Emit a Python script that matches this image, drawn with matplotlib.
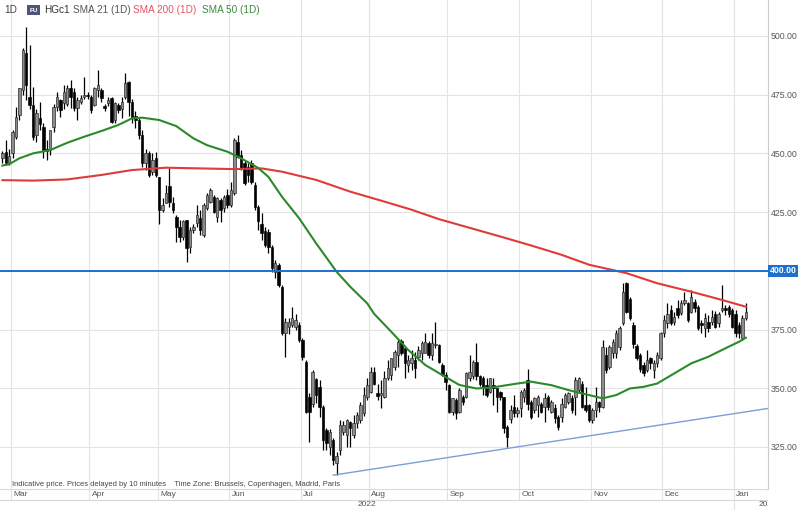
import numpy as np
import pandas as pd
import matplotlib
matplotlib.use("Agg")
import matplotlib.pyplot as plt

plt.rcParams['font.family'] = ['Liberation Sans', 'DejaVu Sans']

# trading days shown (HGc1, daily candles)
holidays = ["2022-04-15", "2022-05-30", "2022-06-20", "2022-07-04",
            "2022-09-05", "2022-11-24", "2022-12-26", "2023-01-02"]
dates = pd.bdate_range("2022-02-24", "2023-01-06").drop(pd.to_datetime(holidays))

opens = [448, 450.7, 446, 450, 457, 466.3, 477, 492.6, 474, 470.6,
         458, 465, 461.4, 452, 451.4, 461.4, 469.9, 472.7, 471.3, 471,
         477.7, 476.3, 469.2, 472, 474, 475, 474.1, 470.6, 477, 477,
         470, 471.3, 473.4, 464.2, 470.6, 469, 474, 480.5, 472, 466,
         464, 458, 446, 450, 442, 448, 440, 426, 429, 436,
         429, 423, 418.8, 414.5, 421.6, 410.3, 417.3, 420.2, 422.3, 415.2,
         426.6, 429.4, 431.5, 423, 430, 426.6, 432.2, 428, 433, 455,
         449.3, 445.7, 444, 446, 436.5, 427, 420, 417, 416.7, 410.3,
         399.4, 402.5, 393.2, 373.4, 376, 377, 376, 377, 370.5, 361.3,
         346.4, 343.5, 354, 350.6, 342, 332.2, 325.1, 328, 318, 323.7,
         331.5, 330, 335.7, 330, 335, 336.4, 339.3, 346.4, 348.5, 357,
         348, 347, 346.4, 354.2, 355.6, 359.2, 364.1, 370, 367, 360,
         360.6, 362, 363.4, 364.8, 364.8, 369.1, 364.1, 368.4, 368.4, 359.9,
         355.6, 351.4, 340, 344.9, 340, 346.4, 346.4, 354.2, 355, 361.3,
         355, 354.2, 351.4, 348.5, 351.4, 349.9, 348.5, 346.4, 333.6, 337.1,
         342.1, 339.3, 341.4, 346.4, 353.5, 344.2, 340.7, 342.8, 343.5, 342.1,
         346.4, 340, 341.4, 337.9, 337.9, 342.1, 344.2, 345.7, 346.4, 349.2,
         352, 342.8, 342.8, 336.4, 340.7, 344.2, 342.1, 364.1, 359.2, 364.8,
         364.8, 367.7, 377.6, 394.7, 388, 377, 368, 364, 360, 357.7,
         362.7, 357.7, 360.6, 362.7, 373.4, 377.6, 383.3, 378.3, 384, 382,
         386.1, 386.1, 382.6, 386.8, 384.7, 377.6, 375.5, 378.3, 378.3, 381.8,
         377.6, 383.3, 384, 384.7, 383.3, 381.8, 377, 371.2, 379.7]
highs = [451, 455.7, 452, 460, 469.9, 478, 495, 504, 496, 478.4,
         469, 472, 463, 455.7, 460, 471, 476, 473, 479, 479,
         481.2, 478, 474, 475, 482.7, 476, 475, 478.4, 485.5, 478,
         471, 474, 474, 472, 471.5, 474, 484.1, 481, 473, 468,
         465, 460, 452, 451, 450, 450.6, 440, 431, 436.5, 443.6,
         431.5, 423.7, 421.6, 421.6, 421.6, 418.7, 420, 428, 425.9, 428.7,
         433, 435.1, 432.2, 431.5, 431, 432.2, 435, 438, 456.4, 457.8,
         451.4, 447.2, 446, 447, 438, 428, 424.5, 418.5, 418, 411,
         404.6, 403.2, 394, 380, 380, 384.7, 381.8, 378.3, 371.2, 362,
         348, 357.8, 354.5, 353.5, 343, 332.9, 332.5, 329, 323, 336.4,
         336, 337, 336, 338.6, 340, 344, 350.7, 354.2, 359.2, 359.2,
         352, 353.5, 357.4, 362, 362.7, 366.3, 370.5, 371, 367, 364.1,
         366.3, 365.5, 368, 370, 373.4, 370, 373.4, 378.3, 369, 360.6,
         357, 352, 345.7, 346, 350, 347, 357, 364, 362, 369.1,
         355.6, 355, 354.2, 354.2, 354.2, 350, 349, 346.4, 334.3, 342.8,
         347.1, 342.1, 349.2, 350, 358.4, 345, 346.4, 347.1, 344.2, 347.8,
         347.1, 345, 343.5, 338.5, 345.7, 348, 348.5, 347, 354.9, 354.9,
         353, 350.7, 343.5, 341.4, 350.7, 344.5, 370.5, 367.7, 368.4, 371,
         374.8, 376.3, 394.7, 395.4, 389, 378, 369, 365, 361, 366.3,
         363.4, 362, 365.5, 374.1, 381.1, 386.1, 385.4, 382.6, 387.5, 387.5,
         391.1, 386.8, 391.8, 388.2, 385.4, 379, 382, 381, 383.3, 383,
         382.6, 394, 385.4, 385.4, 384, 383.3, 378, 381.1, 386.1]
lows = [446, 445, 445, 448, 456, 464, 475, 472.7, 469, 455.7,
        455, 460, 448, 447, 449.3, 459, 468, 465.6, 469, 470,
        469.2, 468, 464.2, 471, 473, 473, 467, 470, 474, 472,
        468, 470, 463, 463, 467, 465, 473, 466, 463, 461,
        456, 444, 443, 440, 441, 440, 420, 425, 428.7, 427.3,
        424.5, 412.4, 412.4, 413, 403.9, 407.4, 416, 418.8, 415.2, 414.5,
        425.9, 428.7, 424.5, 420.9, 420.9, 425.2, 426.6, 427, 432.2, 447.9,
        443, 436.5, 438, 437, 426, 417.4, 413.1, 410, 407.4, 399.6,
        396.8, 393.3, 372.7, 363.4, 373, 376, 374.8, 369.8, 361.9, 339.3,
        327, 342.1, 343.6, 337.9, 323.7, 323.7, 321.6, 317.3, 313, 321.6,
        330, 325.1, 325.1, 329, 333, 335, 338, 344.9, 347.8, 351.4,
        345, 341.4, 346, 353.5, 353.5, 357.8, 359.2, 364, 354.2, 357,
        357.8, 354.2, 362, 362, 364.8, 363, 362, 367, 360.6, 355,
        349.2, 339.3, 338.6, 337, 339.3, 343, 346, 353, 354, 353.5,
        351, 347, 346.4, 348, 342.8, 340, 345, 331, 325, 335,
        337.9, 337.9, 337.9, 344, 340.7, 337, 339.3, 337.9, 339.3, 335.7,
        340.7, 339.3, 335, 332.2, 335.7, 341.4, 343.5, 339.3, 338.6, 347.8,
        341.4, 340, 335.5, 335, 337.9, 340, 341.4, 356.3, 358.4, 363,
        362.7, 366.3, 377, 382, 379, 367, 362, 357, 355, 357,
        358, 354.2, 359, 362, 371.9, 375.5, 376.9, 377, 380, 381,
        385.4, 378.3, 382, 382.6, 374.8, 373.4, 372, 374, 377, 375.5,
        376.2, 382.6, 381, 380.4, 375.5, 371.9, 371.2, 370.5, 379]
closes = [450, 445.7, 449, 459.2, 465.6, 477.7, 494, 479, 470.6, 457.1,
          467, 462.5, 451.4, 451, 460, 469.9, 474.1, 468.5, 476.3, 477.7,
          474.1, 469.2, 472.7, 473.4, 475, 474.5, 468.5, 477.7, 479, 473.4,
          469.5, 472.7, 463.5, 471.3, 468.5, 472, 479.8, 472, 465, 464,
          458, 446, 450, 441, 447, 441, 426, 428, 433, 429.5,
          426, 418.8, 414.5, 421, 409.5, 417.3, 418.7, 423.7, 417.3, 428,
          432.2, 434.4, 425.2, 430.8, 425.9, 431.5, 428, 434.4, 455.7, 448.6,
          443.6, 437.3, 441, 438, 427.3, 421, 416, 411, 410.3, 401,
          403.2, 394, 373.4, 378.3, 378, 379.7, 379, 370.5, 363.4, 340,
          340, 357, 347, 342, 327.9, 326.5, 331.5, 319.4, 321, 334.3,
          334.3, 336.4, 332.9, 335, 338.6, 342.8, 347.1, 351.4, 357, 352,
          346.5, 348, 354.2, 358.5, 362.7, 365.5, 369.8, 365, 360.6, 362,
          362.7, 358.5, 366.3, 369.1, 369.8, 364.1, 369.1, 368.9, 361.3, 355.6,
          352.8, 340, 345.7, 339.3, 349.2, 344.2, 356.3, 357, 361.3, 355,
          352, 350.7, 347.1, 354.2, 349.9, 346.4, 346.4, 332.9, 329.3, 340.7,
          339.3, 340.7, 348.5, 349.2, 343.5, 337.9, 345.7, 346.4, 340, 345.7,
          342.1, 344.2, 337.2, 333.6, 343.5, 347.1, 347.8, 340.7, 353.5, 354.2,
          342.1, 340.7, 336.4, 340.7, 344.2, 342.1, 367.7, 357.7, 367.7, 369.8,
          373.4, 375.5, 391.1, 382.6, 380, 369, 363, 358, 356.3, 362,
          360.6, 360.6, 364.1, 373.4, 379, 381.8, 377.6, 380.4, 381, 386.1,
          387.5, 379, 389, 384, 375.5, 377, 379.7, 375.5, 380.4, 376.2,
          381.8, 384, 383.3, 381.8, 376.2, 373.4, 373.4, 379.7, 382.6]

# moving averages (candle index, price)
sma200_idx = [0, 9, 19, 29, 38, 48, 58, 68, 76, 82, 92, 102, 111, 120, 128,
              137, 146, 155, 164, 172, 183, 192, 202, 211, 218]
sma200_val = [438.6, 438.4, 438.9, 440.8, 442.9, 443.9, 443.6, 443.3, 443.6,
              442.2, 438.7, 433.7, 429.9, 426, 422, 418.3, 414.6, 410.8, 406.8,
              402.6, 399, 394.7, 391.1, 387.6, 384.7]
sma50_idx = [0, 2, 5, 9, 14, 19, 24, 29, 34, 38, 41, 46, 51, 56, 60, 66, 70,
             75, 78, 82, 87, 92, 98, 102, 107, 109, 114, 119, 124, 129, 134,
             139, 144, 147, 151, 155, 161, 166, 170, 176, 180, 184, 188, 192,
             197, 202, 207, 212, 216, 218]
sma50_val = [444.8, 445.4, 447.9, 450, 451.4, 454.5, 457.1, 459.5, 462.1,
             464.9, 465.2, 464.2, 461.6, 456.4, 453.5, 450.7, 447.9, 443.8, 440,
             431.5, 422.4, 411.7, 399.6, 393.2, 386.1, 381.7, 374.1, 366.3,
             359.9, 355.6, 351.4, 349.9, 350.4, 351.1, 352, 352.8, 351.3, 349.2,
             347.8, 345.7, 347.1, 349.9, 350.6, 352, 356.3, 360.6, 363.4, 367,
             369.8, 371.5]

level = 400.0
trend_x = [97, 224.5]
trend_y = [313, 341.4]

W, H = 800, 511
fig = plt.figure(figsize=(8, 5.11), dpi=100)
fig.patch.set_facecolor('white')

plot_right = 768
plot_bottom = 489
ax = fig.add_axes([0, (H - plot_bottom) / H, plot_right / W, plot_bottom / H])
xl = (-0.7, 224.5)
ax.set_xlim(*xl)
ax.set_ylim(307.1, 515.3)

n = len(closes)
x = np.arange(n)
o = np.array(opens)
c = np.array(closes)
hi = np.array(highs)
lo = np.array(lows)

# month boundaries
month_start = [i for i in range(1, n) if dates[i].month != dates[i - 1].month]
for b in month_start:
    ax.axvline(b - 0.5, color='#e4e4e4', lw=0.8, zorder=0)
yt = [325, 350, 375, 400, 425, 450, 475, 500]
for v in yt:
    ax.axhline(v, color='#e4e4e4', lw=0.8, zorder=0)

# candles
up = c >= o
ax.vlines(x, lo, hi, color='black', lw=0.9, zorder=2)
body = np.maximum(np.abs(c - o), 0.35)
ax.bar(x[up], body[up], bottom=np.minimum(o, c)[up], width=0.72,
       color='#8c8c8c', edgecolor='#222222', linewidth=0.45, zorder=3)
ax.bar(x[~up], body[~up], bottom=np.minimum(o, c)[~up], width=0.72,
       color='black', edgecolor='black', linewidth=0.45, zorder=3)

ax.plot(sma200_idx, sma200_val, color='#e03a3a', lw=1.5, zorder=4)
ax.plot(sma50_idx, sma50_val, color='#2a8a2a', lw=1.5, zorder=4)
ax.axhline(level, color='#1f6fcf', lw=1.4, zorder=4)
ax.plot(trend_x, trend_y, color='#7b9fd6', lw=1.0, zorder=4)

ax.yaxis.tick_right()
ax.set_yticks(yt)
ax.set_yticklabels(['%.2f' % v for v in yt])
ax.tick_params(axis='y', length=0, labelsize=6.3, labelcolor='#555555', pad=2)
ax.set_xticks([])
for s in ['left', 'top', 'bottom']:
    ax.spines[s].set_visible(False)
ax.spines['right'].set_color('#cccccc')
ax.spines['right'].set_linewidth(0.8)

ax.text(1.002, level, '%.2f' % level, transform=ax.get_yaxis_transform(),
        color='white', fontsize=6.3, fontweight='bold', va='center', ha='left',
        bbox=dict(boxstyle='square,pad=0.2', fc='#1f6fcf', ec='none'))

ax.text(12 / plot_right, (plot_bottom - 484) / plot_bottom,
        'Indicative price. Prices delayed by 10 minutes    Time Zone: Brussels, Copenhagen, Madrid, Paris',
        transform=ax.transAxes, fontsize=5.4, color='#444444', va='center')

# date strip
ax2 = fig.add_axes([0, 1 / H, plot_right / W, 21 / H])
ax2.set_xlim(*xl)
ax2.set_ylim(0, 2)
ax2.axis('off')
ax2.axhline(2, color='#d8d8d8', lw=0.8)
ax2.axhline(1, color='#d8d8d8', lw=0.8)
ax2.axhline(0, color='#d8d8d8', lw=0.8)
ax2.axvline(xl[1], color='#cccccc', lw=0.8)
for b in month_start:
    ax2.plot([b - 0.5, b - 0.5], [1, 2], color='#e0e0e0', lw=0.8)
    ax2.text(b + 0.2, 1.5, dates[b].strftime('%b'), fontsize=6,
             color='#555555', va='center', ha='left')
year_start = [b for b in month_start if dates[b].month == 1][0]
ax2.plot([year_start - 0.5, year_start - 0.5], [0, 1], color='#e0e0e0', lw=0.8)
ax2.text(107, 0.5, '2022', fontsize=6, color='#555555', va='center', ha='center')
ax2.text(221.6, 0.5, '2023', fontsize=6, color='#555555', va='center',
         ha='left', clip_on=True)

# header
def px(xp, yp):
    return xp / W, 1 - yp / H

fig.text(*px(4, 10), '1D', fontsize=7.2, color='#444444', va='center')
fig.text(*px(29.5, 10), 'FU', fontsize=4.6, color='white', va='center',
         fontweight='bold',
         bbox=dict(boxstyle='square,pad=0.4', fc='#4f5478', ec='none'))
fig.text(*px(44, 10), 'HGc1', fontsize=7.2, color='#333333', va='center')
fig.text(*px(73, 10), 'SMA 21 (1D)', fontsize=7.2, color='#555555', va='center')
fig.text(*px(133, 10), 'SMA 200 (1D)', fontsize=7.2, color='#e05565', va='center')
fig.text(*px(202, 10), 'SMA 50 (1D)', fontsize=7.2, color='#3a8a3a', va='center')

fig.savefig('out.png', dpi=100)
